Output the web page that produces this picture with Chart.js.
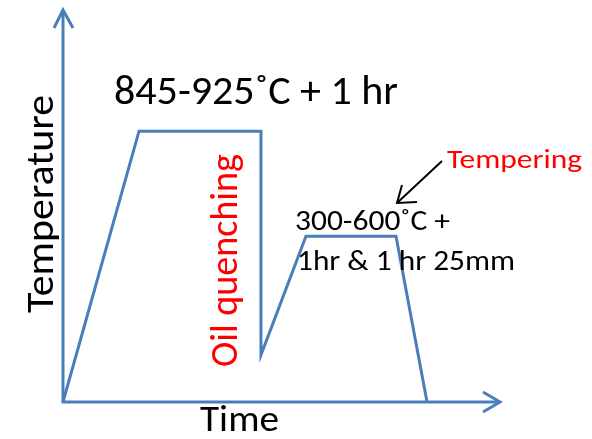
<!DOCTYPE html>
<html>
<head>
<meta charset="utf-8">
<script src="https://cdn.jsdelivr.net/npm/chart.js@4/dist/chart.umd.min.js"></script>
<style>
  html, body { margin: 0; padding: 0; background: #ffffff; }
  #c { display: block; }
</style>
</head>
<body>
<canvas id="c" width="592" height="439"></canvas>
<script>
// ---- data (arbitrary units, 0-100 on both axes) ----
const timeValues = [0, 17.4, 45.3, 45.3, 55.6, 76.2, 83.3];
const temperatureValues = [0, 69.1, 69.1, 12.0, 42.3, 42.3, 0];
const axisTitles = ["Time", "Temperature"];
const stageLabels = ["845-925˚C + 1 hr", "Oil quenching", "Tempering", "300-600˚C +", "1hr & 1 hr 25mm"];

// ---- styles / layout ----
const BLUE = '#4a7ebb';
const FONT = 'Carlito, Calibri, Lato, sans-serif';
const textLayout = [
  { text: stageLabels[0], x: 114, y: 104, w: 284, size: 40, color: '#000000', rot: 0 },
  { text: axisTitles[1],  x: 53,  y: 313, w: 218, size: 38, color: '#000000', rot: -Math.PI / 2 },
  { text: stageLabels[1], x: 237, y: 367, w: 213, size: 39, color: '#ff0000', rot: -Math.PI / 2 },
  { text: axisTitles[0],  x: 200, y: 431, w: 79,  size: 36, color: '#000000', rot: 0 },
  { text: stageLabels[2], x: 447, y: 168, w: 135, size: 27, color: '#ff0000', rot: 0 },
  { text: stageLabels[3], x: 295, y: 230, w: 155, size: 28, color: '#000000', rot: 0 },
  { text: stageLabels[4], x: 297, y: 270, w: 218, size: 28, color: '#000000', rot: 0 }
];

const decorPlugin = {
  id: 'decor',
  afterDatasetsDraw(chart) {
    const ctx = chart.ctx;
    const a = chart.chartArea;
    ctx.save();
    // axes with arrowheads
    ctx.strokeStyle = BLUE;
    ctx.lineWidth = 3;
    ctx.lineCap = 'butt';
    ctx.lineJoin = 'miter';
    ctx.beginPath();
    ctx.moveTo(a.left, a.bottom);
    ctx.lineTo(a.left, a.top);
    ctx.moveTo(a.left - 1.5, a.bottom);
    ctx.lineTo(a.right, a.bottom);
    ctx.stroke();
    ctx.beginPath();
    ctx.moveTo(a.left - 9, a.top + 18);
    ctx.lineTo(a.left, a.top);
    ctx.lineTo(a.left + 10, a.top + 18);
    ctx.moveTo(a.right - 17, a.bottom - 10);
    ctx.lineTo(a.right, a.bottom);
    ctx.lineTo(a.right - 17, a.bottom + 10);
    ctx.stroke();

    // pointer arrow for tempering
    ctx.strokeStyle = '#000000';
    ctx.lineWidth = 2;
    ctx.beginPath();
    ctx.moveTo(442, 161);
    ctx.lineTo(397, 203);
    ctx.moveTo(417, 202);
    ctx.lineTo(397, 203);
    ctx.lineTo(402, 185);
    ctx.stroke();

    // texts
    ctx.textBaseline = 'alphabetic';
    ctx.textAlign = 'left';
    for (const t of textLayout) {
      ctx.save();
      ctx.font = t.size + 'px ' + FONT;
      ctx.fillStyle = t.color;
      const mw = ctx.measureText(t.text).width;
      ctx.translate(t.x, t.y);
      ctx.rotate(t.rot);
      ctx.scale(t.w / mw, 1);
      ctx.fillText(t.text, 0, 0);
      ctx.restore();
    }
    ctx.restore();
  }
};

new Chart(document.getElementById('c'), {
  type: 'line',
  data: {
    datasets: [{
      data: timeValues.map((t, i) => ({ x: t, y: temperatureValues[i] })),
      borderColor: BLUE,
      borderWidth: 3,
      borderJoinStyle: 'miter',
      pointRadius: 0,
      tension: 0,
      fill: false,
      clip: false
    }]
  },
  options: {
    responsive: false,
    devicePixelRatio: 1,
    animation: false,
    layout: { padding: { left: 63, right: 92, top: 10, bottom: 37 } },
    plugins: { legend: { display: false }, tooltip: { enabled: false } },
    scales: {
      x: { type: 'linear', min: 0, max: 100, display: false },
      y: { type: 'linear', min: 0, max: 100, display: false }
    }
  },
  plugins: [decorPlugin]
});
</script>
</body>
</html>
